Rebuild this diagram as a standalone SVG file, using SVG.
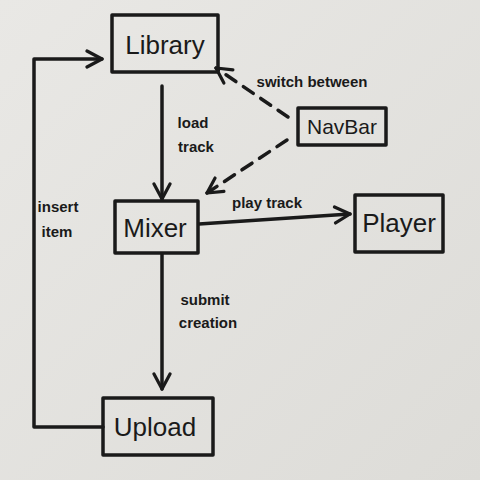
<svg xmlns="http://www.w3.org/2000/svg" width="480" height="480" viewBox="0 0 480 480">
<defs>
<marker id="ah" viewBox="0 0 20 20" refX="18" refY="10" markerWidth="20" markerHeight="20" markerUnits="userSpaceOnUse" orient="auto">
<path d="M3,2 L18,10 L3,18" fill="none" stroke="#1a1a1a" stroke-width="3.2" stroke-linecap="round" stroke-linejoin="round"/>
</marker>
<linearGradient id="bg" x1="0" y1="0" x2="1" y2="1">
<stop offset="0" stop-color="#e9e8e5"/>
<stop offset="1" stop-color="#dddcd8"/>
</linearGradient>
<style>
.box{fill:none;stroke:#1a1a1a;stroke-width:3.5;stroke-linejoin:round}
.lbl{font-family:"Liberation Sans",Arial,sans-serif;fill:#1a1a1a;text-anchor:middle}
.big{font-size:26px}
.mid{font-size:21px}
.small{font-size:15px;font-weight:bold}
.edge{fill:none;stroke:#1a1a1a;stroke-width:3.5;stroke-linecap:round;stroke-linejoin:round}
.dash{stroke-dasharray:12 9}
</style>
</defs>
<rect width="480" height="480" fill="url(#bg)"/>
<g id="connectors">
<path class="edge" d="M162,86 L162,199" marker-end="url(#ah)"/>
<path class="edge dash" d="M288,117 L216,68" marker-end="url(#ah)"/>
<path class="edge dash" d="M287,140 L207,193" marker-end="url(#ah)"/>
<path class="edge" d="M199,224 L350,214" marker-end="url(#ah)"/>
<path class="edge" d="M162,254 L162,389" marker-end="url(#ah)"/>
<path class="edge" d="M103,427 L34,427 L34,59 L102,59" marker-end="url(#ah)"/>
<text class="lbl small" x="312" y="87">switch between</text>
<text class="lbl small" x="193" y="128">load</text>
<text class="lbl small" x="196" y="152">track</text>
<text class="lbl small" x="267" y="208">play track</text>
<text class="lbl small" x="205" y="305">submit</text>
<text class="lbl small" x="208" y="328">creation</text>
<text class="lbl small" x="58" y="212">insert</text>
<text class="lbl small" x="57" y="237">item</text>
</g>
<g id="library">
<rect class="box" x="112" y="15" width="106" height="57"/>
<text class="lbl big" x="165" y="54">Library</text>
</g>
<g id="navbar">
<rect class="box" x="298" y="108" width="88" height="37"/>
<text class="lbl mid" x="342" y="134">NavBar</text>
</g>
<g id="mixer">
<rect class="box" x="115" y="201" width="83" height="52"/>
<text class="lbl big" x="155" y="237">Mixer</text>
</g>
<g id="player">
<rect class="box" x="355" y="195" width="88" height="57"/>
<text class="lbl big" x="399" y="232">Player</text>
</g>
<g id="upload">
<rect class="box" x="103" y="398" width="110" height="57"/>
<text class="lbl big" x="155" y="436">Upload</text>
</g>
</svg>
